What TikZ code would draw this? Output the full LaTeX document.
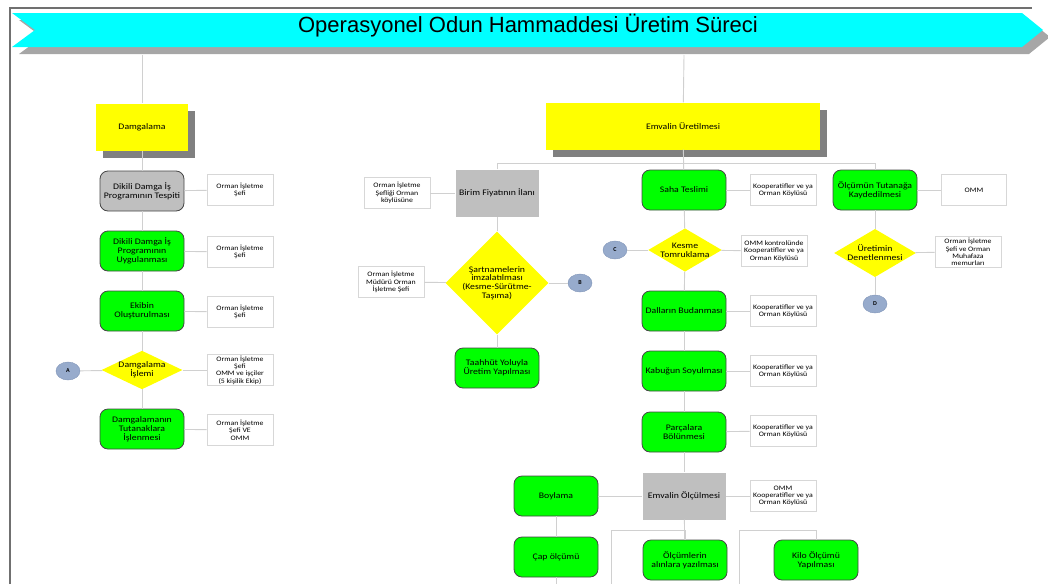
\documentclass[tikz,border=0pt]{standalone}
\usepackage{fontspec}
\setmainfont{Carlito}
\newfontfamily\titlefont{Liberation Sans}
\newfontfamily\boxfont[FakeStretch=1.15]{Carlito}
\usetikzlibrary{shapes.geometric, shadows, positioning}
\definecolor{stepgreen}{RGB}{0,255,0}
\definecolor{stepyellow}{RGB}{255,255,0}
\definecolor{stepgrey}{RGB}{191,191,191}
\definecolor{edgegrey}{RGB}{70,70,70}
\definecolor{sidegrey}{RGB}{215,215,215}
\definecolor{linkgrey}{RGB}{208,208,208}
\definecolor{shadowgrey}{RGB}{128,128,128}
\definecolor{bannercyan}{RGB}{0,255,255}
\definecolor{bannershadow}{RGB}{166,166,166}
\definecolor{framegrey}{RGB}{112,112,112}
\definecolor{jointblue}{RGB}{151,171,204}
\definecolor{jointedge}{RGB}{125,146,182}
\tikzset{
  boxtext/.style={font=\boxfont\fontsize{8.5}{8.8}\selectfont},
  sidetext/.style={font=\boxfont\fontsize{6.8}{7.3}\selectfont},
  greenstep/.style={rectangle, rounded corners=8pt, draw=edgegrey, line width=0.8pt,
    fill=stepgreen, minimum width=84pt, minimum height=40pt, inner sep=1pt,
    align=center, boxtext},
  greystep/.style={greenstep, fill=stepgrey},
  flatbox/.style={rectangle, fill=stepgrey, minimum width=83pt, minimum height=47pt,
    inner sep=1pt, align=center, boxtext},
  headbox/.style={rectangle, fill=stepyellow, minimum height=47pt, align=center, boxtext,
    drop shadow={shadow xshift=7pt, shadow yshift=-7pt, fill=shadowgrey, opacity=1}},
  decision/.style={diamond, fill=stepyellow, inner sep=0pt, align=center, boxtext},
  sidebox/.style={rectangle, draw=sidegrey, line width=0.8pt, fill=white,
    minimum width=66pt, minimum height=31pt, inner sep=1pt, align=center, sidetext},
  joint/.style={ellipse, draw=jointedge, fill=jointblue, minimum width=24pt,
    minimum height=18pt, inner sep=0pt, font=\bfseries\fontsize{6}{6}\selectfont},
  link/.style={draw=linkgrey, line width=0.9pt}
}

\begin{document}
\begin{tikzpicture}[x=1pt, y=-1pt]
  \useasboundingbox (0,0) rectangle (1048,584);
  % frame and banner
  \draw[framegrey, line width=2pt] (10,584) -- (10,8) -- (1032,8);
  \fill[bannershadow] (19,20) -- (1029,20) -- (1050,37) -- (1029,54) -- (19,54) -- (42,37) -- cycle;
  \fill[bannercyan] (12,13) -- (1022,13) -- (1043,30) -- (1022,47) -- (12,47) -- (35,30) -- cycle;
  \node[font=\titlefont\fontsize{22}{24}\selectfont] (title) at (528,26)
    {Operasyonel Odun Hammaddesi Üretim Süreci};
  \coordinate (topL) at (142,55);
  \coordinate (topR) at (684,55);

  % left: Damgalama
  \node[headbox, minimum width=92pt] (damg) at (142,127) {Damgalama};
  \node[greystep] (tespit) at (142,191) {Dikili Damga İş\\Programının Tespiti};
  \node[greenstep] (uygul) at (142,251) {Dikili Damga İş\\Programının\\Uygulanması};
  \node[greenstep] (ekip) at (142,311) {Ekibin\\Oluşturulması};
  \node[decision, aspect=2.1, minimum width=74pt, minimum height=35pt] (islem) at (142,370)
    {Damgalama\\İşlemi};
  \node[greenstep] (tutanak) at (142,429) {Damgalamanın\\Tutanaklara\\İşlenmesi};
  \node[joint] (ca) at (68,371) {A};
  \draw[link] (topL) -- (damg);
  \draw[link] (damg) -- (tespit);
  \draw[link] (tespit) -- (uygul);
  \draw[link] (uygul) -- (ekip);
  \draw[link] (ekip) -- (islem);
  \draw[link] (islem) -- (tutanak);
  \draw[link] (ca) -- (islem);
  \foreach \n/\y/\txt in {tespit/190/{Orman İşletme\\Şefi}, uygul/252/{Orman İşletme\\Şefi},
      ekip/312/{Orman İşletme\\Şefi},
      islem/370/{Orman İşletme\\Şefi\\OMM ve işçiler\\(5 kişilik Ekip)},
      tutanak/430/{Orman İşletme\\Şefi VE\\OMM}} {
    \node[sidebox] (s\n) at (240,\y) {\txt};
    \draw[link] (\n) -- (s\n);
  }

  % right: Emvalin Uretilmesi
  \node[headbox, minimum width=274pt] (emvuret) at (683,126) {Emvalin Üretilmesi};
  \coordinate (bar) at (684,163);
  \draw[link] (topR) -- (emvuret);

  % branch 1
  \node[flatbox] (birim) at (497,193) {Birim Fiyatının İlanı};
  \node[decision, aspect=1, minimum width=91pt, minimum height=90pt] (sartname) at (497,283)
    {Şartnamelerin\\imzalatılması\\(Kesme-Sürütme-\\Taşıma)};
  \node[greenstep] (taahhut) at (497,368) {Taahhüt Yoluyla\\Üretim Yapılması};
  \node[joint] (cb) at (580,283) {B};
  \node[sidebox] (sbirim) at (397,193) {Orman İşletme\\Şefliği Orman\\köylüsüne};
  \node[sidebox] (ssartname) at (391,282) {Orman İşletme\\Müdürü Orman\\İşletme Şefi};
  \draw[link] (birim) |- (bar);
  \draw[link] (birim) -- (sartname);
  \draw[link] (sartname) -- (taahhut);
  \draw[link] (sartname) -- (cb);
  \draw[link] (sbirim) -- (birim);
  \draw[link] (ssartname) -- (sartname);

  % branch 2
  \node[greenstep] (saha) at (684,190) {Saha Teslimi};
  \node[decision, aspect=1.7, minimum width=66pt, minimum height=39pt] (kesme) at (685,250)
    {Kesme\\Tomruklama};
  \node[greenstep] (dallar) at (684,311) {Dalların Budanması};
  \node[greenstep] (kabuk) at (684,371) {Kabuğun Soyulması};
  \node[greenstep] (parca) at (684,432) {Parçalara\\Bölünmesi};
  \node[flatbox] (olcme) at (684,496) {Emvalin Ölçülmesi};
  \node[joint] (cc) at (615,250) {C};
  \draw[link] (emvuret) -- (saha);
  \draw[link] (saha) -- (kesme);
  \draw[link] (kesme) -- (dallar);
  \draw[link] (dallar) -- (kabuk);
  \draw[link] (kabuk) -- (parca);
  \draw[link] (parca) -- (olcme);
  \draw[link] (cc) -- (kesme);
  \foreach \n/\y in {saha/190, dallar/311, kabuk/371, parca/431} {
    \node[sidebox] (s\n) at (783,\y) {Kooperatifler ve ya\\Orman Köylüsü};
    \draw[link] (\n) -- (s\n);
  }
  \node[sidebox] (skesme) at (774,251) {OMM kontrolünde\\Kooperatifler ve ya\\Orman Köylüsü};
  \node[sidebox] (solcme) at (783,496) {OMM\\Kooperatifler ve ya\\Orman Köylüsü};
  \draw[link] (kesme) -- (skesme);
  \draw[link] (olcme) -- (solcme);

  % measuring
  \node[greenstep] (boylama) at (556,496) {Boylama};
  \node[greenstep] (cap) at (556,557) {Çap ölçümü};
  \node[greenstep] (olcumler) at (685,560) {Ölçümlerin\\alınlara yazılması};
  \node[greenstep] (kilo) at (816,560) {Kilo Ölçümü\\Yapılması};
  \coordinate (brkA) at (611,530);
  \coordinate (brkAend) at (611,584);
  \coordinate (brkB) at (739,530);
  \coordinate (brkBend) at (739,584);
  \coordinate (capend) at (556,584);
  \draw[link] (boylama) -- (olcme);
  \draw[link] (boylama) -- (cap);
  \draw[link] (cap) -- (capend);
  \draw[link] (olcme) -- (olcumler);
  \draw[link] (olcumler) |- (brkA) -- (brkAend);
  \draw[link] (kilo) |- (brkB) -- (brkBend);

  % branch 3
  \node[greenstep] (kayit) at (875,190) {Ölçümün Tutanağa\\Kaydedilmesi};
  \node[decision, aspect=1.7, minimum width=73pt, minimum height=43pt] (denetim) at (875,253)
    {Üretimin\\Denetlenmesi};
  \node[joint] (cd) at (875,304) {D};
  \node[sidebox, minimum width=65pt] (skayit) at (974,190) {OMM};
  \node[sidebox] (sdenetim) at (968,252) {Orman İşletme\\Şefi ve Orman\\Muhafaza\\memurları};
  \draw[link] (bar) -| (kayit);
  \draw[link] (kayit) -- (denetim);
  \draw[link] (denetim) -- (cd);
  \draw[link] (kayit) -- (skayit);
  \draw[link] (denetim) -- (sdenetim);
\end{tikzpicture}
\end{document}
